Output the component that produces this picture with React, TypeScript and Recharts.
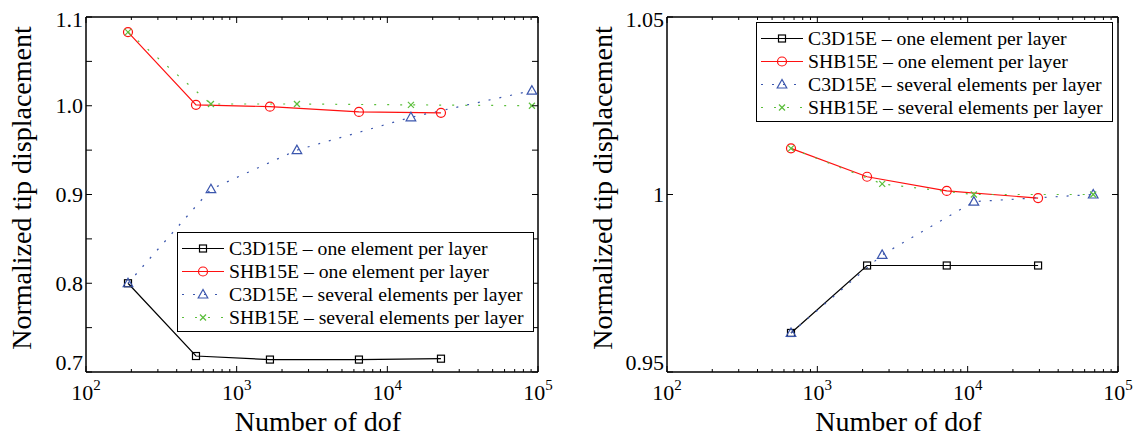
import React from "react";
import { Label, Legend, Line, LineChart, XAxis, YAxis } from "recharts";

const FONT = "Liberation Serif, Times New Roman, DejaVu Serif, serif";

// left panel
const leftDofOne = [190, 537, 1663, 6480, 22700];
const leftC3DOne = [0.8, 0.718, 0.714, 0.714, 0.715];
const leftSHBOne = [1.083, 1.001, 0.999, 0.993, 0.992];
const leftDofSeveral = [190, 675, 2512, 14340, 91100];
const leftC3DSeveral = [0.8, 0.906, 0.95, 0.987, 1.017];
const leftSHBSeveral = [1.083, 1.002, 1.002, 1.001, 1.0];

// right panel
const rightDofOne = [668, 2142, 7260, 29400];
const rightC3DOne = [0.961, 0.98, 0.98, 0.98];
const rightSHBOne = [1.013, 1.005, 1.001, 0.999];
const rightDofSeveral = [668, 2700, 11000, 68400];
const rightC3DSeveral = [0.961, 0.983, 0.998, 1.0];
const rightSHBSeveral = [1.013, 1.003, 1.0, 1.0];

const xTicks = [
  100, 200, 300, 400, 500, 600, 700, 800, 900,
  1000, 2000, 3000, 4000, 5000, 6000, 7000, 8000, 9000,
  10000, 20000, 30000, 40000, 50000, 60000, 70000, 80000, 90000,
  100000,
];
const leftYTicks = [0.7, 0.75, 0.8, 0.85, 0.9, 0.95, 1.0, 1.05, 1.1];
const leftYLabels = [0.7, 0.8, 0.9, 1.0, 1.1];
const rightYTicks = [0.95, 1, 1.05];
const rightYLabels = [0.95, 1, 1.05];

const toPoints = (xs: number[], ys: number[]) =>
  xs.map((x, i) => ({ dof: x, value: ys[i] }));

type MarkerProps = { cx: number; cy: number; color: string };

const Square = ({ cx, cy, color }: MarkerProps) => (
  <rect x={cx - 3.5} y={cy - 3.5} width={7} height={7} fill="none" stroke={color} strokeWidth={1.2} />
);
const Ring = ({ cx, cy, color }: MarkerProps) => (
  <circle cx={cx} cy={cy} r={4.5} fill="none" stroke={color} strokeWidth={1.2} />
);
const Triangle = ({ cx, cy, color }: MarkerProps) => (
  <polygon
    points={`${cx},${cy - 5} ${cx - 4.8},${cy + 3.5} ${cx + 4.8},${cy + 3.5}`}
    fill="none"
    stroke={color}
    strokeWidth={1.2}
  />
);
const Cross = ({ cx, cy, color }: MarkerProps) => (
  <g stroke={color} strokeWidth={1.2}>
    <line x1={cx - 3} y1={cy - 3} x2={cx + 3} y2={cy + 3} />
    <line x1={cx - 3} y1={cy + 3} x2={cx + 3} y2={cy - 3} />
  </g>
);

const series = [
  { key: "c3dOne", name: "C3D15E – one element per layer", color: "#000000", dash: undefined, Marker: Square },
  { key: "shbOne", name: "SHB15E – one element per layer", color: "#ff1010", dash: undefined, Marker: Ring },
  { key: "c3dSev", name: "C3D15E – several elements per layer", color: "#3b56ad", dash: "2 9", Marker: Triangle },
  { key: "shbSev", name: "SHB15E – several elements per layer", color: "#5cbf3c", dash: "2 11", Marker: Cross },
];

const isMajor = (v: number) => Math.abs(Math.log10(v) - Math.round(Math.log10(v))) < 1e-6;

const BottomTick = (props: any) => {
  const { x, y, payload } = props;
  const v = payload.value;
  const major = isMajor(v);
  return (
    <g>
      <line x1={x} x2={x} y1={y} y2={y - (major ? 6 : 3)} stroke="#000" />
      {major && (
        <text x={x} y={y + 28} textAnchor="middle" fontSize={22} style={{ fontFamily: FONT }} fill="#000">
          10
          <tspan dy={-10} fontSize={15}>
            {Math.round(Math.log10(v))}
          </tspan>
        </text>
      )}
    </g>
  );
};

const TopTick = (props: any) => {
  const { x, y, payload } = props;
  const major = isMajor(payload.value);
  return <line x1={x} x2={x} y1={y} y2={y + (major ? 6 : 3)} stroke="#000" />;
};

const LeftTick = (props: any) => {
  const { x, y, payload, labels, domain } = props;
  const v = payload.value;
  const show = labels.some((l: number) => Math.abs(l - v) < 1e-9);
  let dy = 7.5;
  if (Math.abs(v - domain[0]) < 1e-9) dy = -2;
  if (Math.abs(v - domain[1]) < 1e-9) dy = 10;
  return (
    <g>
      <line x1={x} x2={x + 6} y1={y} y2={y} stroke="#000" />
      {show && (
        <text x={x - 3} y={y + dy} textAnchor="end" fontSize={22} style={{ fontFamily: FONT }} fill="#000">
          {labels === leftYLabels ? v.toFixed(1) : String(v)}
        </text>
      )}
    </g>
  );
};

const RightTick = (props: any) => {
  const { x, y } = props;
  return <line x1={x} x2={x - 6} y1={y} y2={y} stroke="#000" />;
};

const LegendBox = () => (
  <div
    style={{
      width: 355,
      border: "1px solid #000",
      background: "#fff",
      padding: "4px 0 2px 0",
      fontFamily: FONT,
      fontSize: 19.7,
      color: "#000",
    }}
  >
    {series.map((s) => (
      <div key={s.key} style={{ display: "flex", alignItems: "center", height: 23, whiteSpace: "nowrap" }}>
        <svg width={51} height={23} style={{ flex: "none" }}>
          <line x1={4} x2={46} y1={11.5} y2={11.5} stroke={s.color} strokeWidth={1.2} strokeDasharray={s.dash} />
          <s.Marker cx={25} cy={11.5} color={s.color} />
        </svg>
        <span>{s.name}</span>
      </div>
    ))}
  </div>
);

const axisLine = { stroke: "#000", strokeWidth: 1.5 };

interface PanelProps {
  left: number;
  yAxisWidth: number;
  lines: { dof: number; value: number }[][];
  yDomain: number[];
  yTicks: number[];
  yLabels: number[];
  legendLeft: number;
  legendTop: number;
}

const Panel = ({ left, yAxisWidth, lines, yDomain, yTicks, yLabels, legendLeft, legendTop }: PanelProps) => (
  <div style={{ position: "absolute", left, top: 0 }}>
    <LineChart width={560} height={437} margin={{ top: 16, right: 0, bottom: 0, left: 0 }}>
      <XAxis
        xAxisId="bottom"
        dataKey="dof"
        type="number"
        scale="log"
        domain={[100, 100000]}
        allowDataOverflow
        ticks={xTicks}
        interval={0}
        tickLine={false}
        tickSize={0}
        tickMargin={0}
        height={65}
        axisLine={axisLine}
        tick={<BottomTick />}
      >
        <Label
          content={(p: any) => (
            <text
              x={p.viewBox.x + p.viewBox.width / 2 + 6}
              y={431}
              textAnchor="middle"
              fontSize={28}
              style={{ fontFamily: FONT }}
              fill="#000"
            >
              Number of dof
            </text>
          )}
        />
      </XAxis>
      <XAxis
        xAxisId="top"
        orientation="top"
        dataKey="dof"
        type="number"
        scale="log"
        domain={[100, 100000]}
        allowDataOverflow
        ticks={xTicks}
        interval={0}
        tickLine={false}
        tickSize={0}
        tickMargin={0}
        height={1}
        axisLine={axisLine}
        tick={<TopTick />}
      />
      <YAxis
        yAxisId="left"
        type="number"
        domain={yDomain}
        allowDataOverflow
        ticks={yTicks}
        interval={0}
        tickLine={false}
        tickSize={0}
        tickMargin={0}
        width={yAxisWidth}
        axisLine={axisLine}
        tick={(p: any) => <LeftTick {...p} labels={yLabels} domain={yDomain} />}
      >
        <Label
          content={(p: any) => {
            const x = p.viewBox.x + p.viewBox.width - 55;
            const y = 188;
            return (
              <text
                x={x}
                y={y}
                transform={`rotate(-90, ${x}, ${y})`}
                textAnchor="middle"
                fontSize={28}
                style={{ fontFamily: FONT }}
                fill="#000"
              >
                Normalized tip displacement
              </text>
            );
          }}
        />
      </YAxis>
      <YAxis
        yAxisId="right"
        orientation="right"
        type="number"
        domain={yDomain}
        allowDataOverflow
        ticks={yTicks}
        interval={0}
        tickLine={false}
        tickSize={0}
        tickMargin={0}
        width={22}
        axisLine={axisLine}
        tick={<RightTick />}
      />
      {series.map((s, i) => (
        <Line
          key={s.key}
          xAxisId="bottom"
          yAxisId="left"
          data={lines[i]}
          dataKey="value"
          name={s.name}
          stroke={s.color}
          strokeWidth={1.2}
          strokeDasharray={s.dash}
          isAnimationActive={false}
          dot={(p: any) => <s.Marker key={`${s.key}-${p.index}`} cx={p.cx} cy={p.cy} color={s.color} />}
          activeDot={false}
        />
      ))}
      <Legend
        layout="vertical"
        align="center"
        verticalAlign="middle"
        content={<LegendBox />}
        wrapperStyle={{ left: legendLeft, top: legendTop, width: "auto", height: "auto" }}
      />
    </LineChart>
  </div>
);

export default function App() {
  return (
    <div style={{ position: "absolute", left: 0, top: 0, width: 1140, height: 437, background: "#fff" }}>
      <Panel
        left={0}
        yAxisWidth={86}
        lines={[
          toPoints(leftDofOne, leftC3DOne),
          toPoints(leftDofOne, leftSHBOne),
          toPoints(leftDofSeveral, leftC3DSeveral),
          toPoints(leftDofSeveral, leftSHBSeveral),
        ]}
        yDomain={[0.7, 1.1]}
        yTicks={leftYTicks}
        yLabels={leftYLabels}
        legendLeft={177}
        legendTop={232}
      />
      <Panel
        left={580}
        yAxisWidth={87}
        lines={[
          toPoints(rightDofOne, rightC3DOne),
          toPoints(rightDofOne, rightSHBOne),
          toPoints(rightDofSeveral, rightC3DSeveral),
          toPoints(rightDofSeveral, rightSHBSeveral),
        ]}
        yDomain={[0.95, 1.05]}
        yTicks={rightYTicks}
        yLabels={rightYLabels}
        legendLeft={176}
        legendTop={22}
      />
    </div>
  );
}
